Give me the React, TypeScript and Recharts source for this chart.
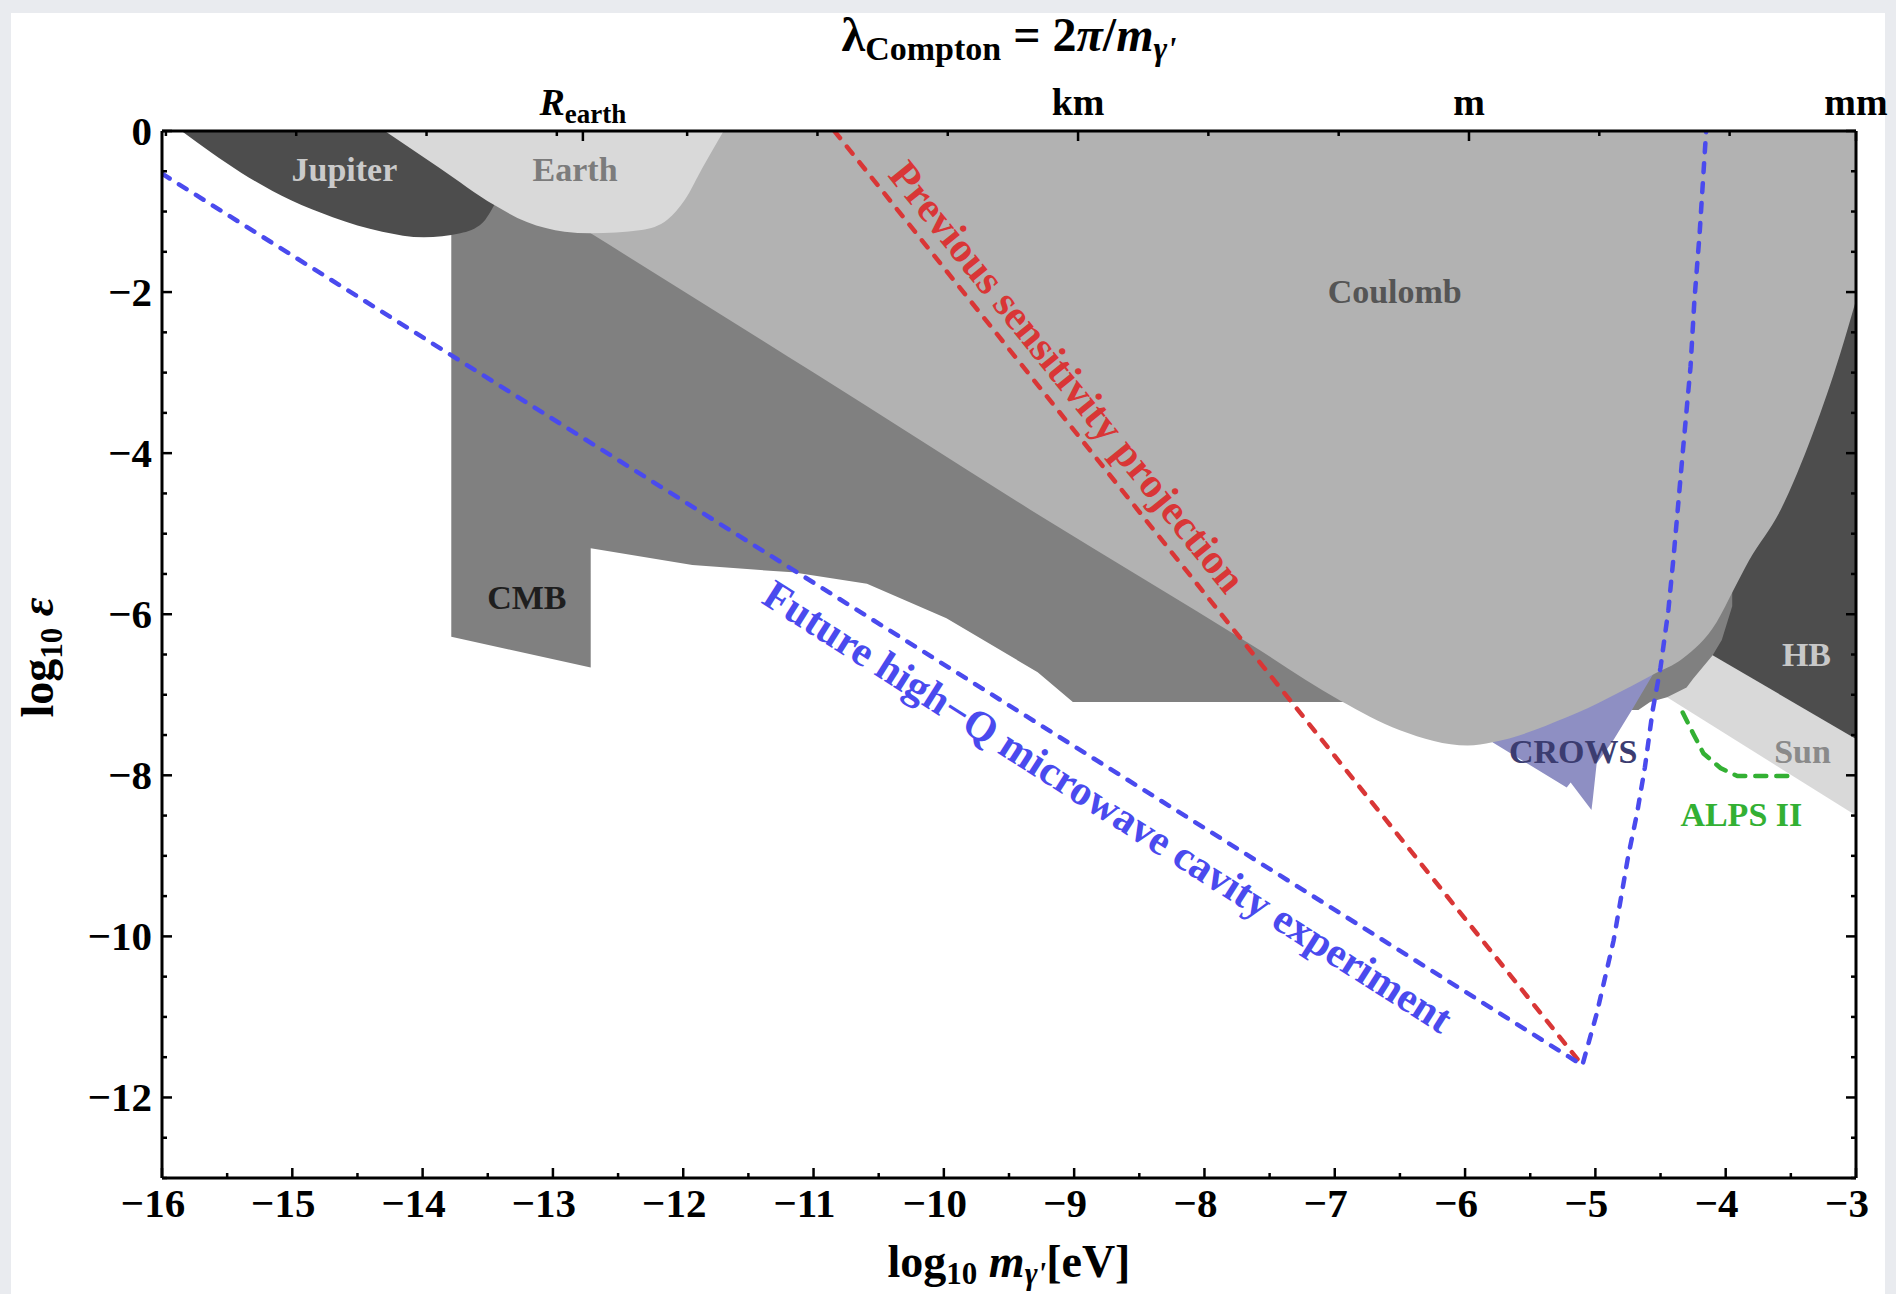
import { Area, ComposedChart, Line, Scatter, XAxis, YAxis } from 'recharts'

const FONT = '"Liberation Serif", "Times New Roman", Times, serif'

// excluded regions, one row per point: [log10 m, lower edge, upper edge]
const sunRegion = [
  [-4.45, -7.03, -6.0],
  [-3.0, -8.5, -6.0],
]

const hbRegion = [
  [-4.12, -6.49, 0],
  [-3.0, -7.55, 0],
]

const stripRegion = [
  [-4.72, -7.19, 0],
  [-4.67, -7.19, 0],
  [-4.58, -7.09, 0],
  [-4.45, -7.03, 0],
  [-4.3, -6.91, 0],
  [-4.25, -6.8, 0],
  [-4.1, -6.51, 0],
  [-4.03, -6.32, 0],
  [-3.95, -5.9, 0],
]

const crowsRegion = [
  [-5.79, -7.59, -7.59],
  [-5.22, -8.15, -7.0],
  [-5.19, -8.09, -7.0],
  [-5.03, -8.43, -7.0],
  [-5.02, -8.3, -6.9],
  [-4.99, -7.85, -6.9],
  [-4.86, -7.56, -6.8],
  [-4.72, -7.19, -6.7],
  [-4.56, -6.75, -6.0],
]

const cmbRegion = [
  [-13.78, -6.28, 0],
  [-12.71, -6.66, 0],
  [-12.71, -5.18, 0],
  [-11.93, -5.39, 0],
  [-11.16, -5.48, 0],
  [-10.59, -5.62, 0],
  [-9.98, -6.05, 0],
  [-9.28, -6.72, 0],
  [-9.01, -7.09, 0],
  [-6.92, -7.09, 0],
]

const coulombRegion = [
  [-12.71, -1.27, 0],
  [-11.0, -3.0, 0],
  [-9.24, -4.8, 0],
  [-7.66, -6.36, 0],
  [-6.96, -7.07, 0],
  [-6.5, -7.44, 0],
  [-5.98, -7.63, 0],
  [-5.79, -7.59, 0],
  [-5.22, -7.28, 0],
  [-4.56, -6.75, 0],
  [-4.33, -6.55, 0],
  [-4.07, -6.1, 0],
  [-3.94, -5.7, 0],
  [-3.82, -5.33, 0],
  [-3.58, -4.71, 0],
  [-3.33, -3.75, 0],
  [-3.12, -2.76, 0],
  [-3.0, -2.1, 0],
]

const jupiterRegion = [
  [-15.85, 0, 0],
  [-15.62, -0.27, 0],
  [-15.39, -0.52, 0],
  [-15.01, -0.86, 0],
  [-14.69, -1.07, 0],
  [-14.31, -1.25, 0],
  [-13.99, -1.32, 0],
  [-13.71, -1.27, 0],
  [-13.54, -1.14, 0],
  [-13.45, -0.92, 0],
]

const earthRegion = [
  [-14.29, 0, 0],
  [-13.87, -0.46, 0],
  [-13.45, -0.92, 0],
  [-13.2, -1.13, 0],
  [-12.91, -1.25, 0],
  [-12.71, -1.27, 0],
  [-12.32, -1.23, 0],
  [-12.12, -1.1, 0],
  [-11.99, -0.86, 0],
  [-11.85, -0.45, 0],
  [-11.69, 0, 0],
]

// sensitivity curves: [log10 m, log10 eps]
const previousProjection = [
  [-10.84, 0],
  [-5.1, -11.6],
]

const cavityProjection = [
  [-16, -0.53],
  [-5.1, -11.6],
  [-4.99, -10.96],
  [-4.86, -10.05],
  [-4.75, -9.02],
  [-4.68, -8.47],
  [-4.62, -7.9],
  [-4.56, -7.19],
  [-4.5, -6.66],
  [-4.44, -5.95],
  [-4.4, -5.29],
  [-4.33, -4.0],
  [-4.27, -2.93],
  [-4.24, -2.1],
  [-4.2, -1.27],
  [-4.15, 0],
]

const alpsTwo = [
  [-4.33, -7.22],
  [-4.25, -7.48],
  [-4.17, -7.73],
  [-4.04, -7.91],
  [-3.91, -8.01],
  [-3.49, -8.01],
]

const regionNames = [
  { text: 'Jupiter', x: -14.6, y: -0.48, color: '#cacaca', size: 34, angle: 0 },
  { text: 'Earth', x: -12.83, y: -0.48, color: '#7c7c7c', size: 34, angle: 0 },
  { text: 'Coulomb', x: -6.54, y: -1.99, color: '#555555', size: 34, angle: 0 },
  { text: 'CMB', x: -13.2, y: -5.79, color: '#1e1e1e', size: 34, angle: 0 },
  { text: 'HB', x: -3.38, y: -6.5, color: '#c8c8c8', size: 34, angle: 0 },
  { text: 'Sun', x: -3.41, y: -7.7, color: '#8a8a8a', size: 34, angle: 0 },
  { text: 'CROWS', x: -5.17, y: -7.7, color: '#3b3c70', size: 34, angle: 0 },
  { text: 'ALPS II', x: -3.88, y: -8.48, color: '#33b033', size: 34, angle: 0 },
]

const curveNames = [
  { text: 'Previous sensitivity projection', x: -9.05, y: -3.05, color: '#d93636', size: 42, angle: 51.1 },
  { text: 'Future high\u2212Q microwave cavity experiment', x: -8.74, y: -8.385, color: '#4a4aee', size: 42, angle: 32.4 },
]

const xTicks = [
  -16, -15.5, -15, -14.5, -14, -13.5, -13, -12.5, -12, -11.5, -11, -10.5, -10, -9.5, -9, -8.5, -8, -7.5, -7,
  -6.5, -6, -5.5, -5, -4.5, -4, -3.5, -3,
]

const yTicks = [
  0, -0.5, -1, -1.5, -2, -2.5, -3, -3.5, -4, -4.5, -5, -5.5, -6, -6.5, -7, -7.5, -8, -8.5, -9, -9.5, -10,
  -10.5, -11, -11.5, -12, -12.5, -13,
]

// Compton wavelength decades on the top axis
const lambdaTicks = [
  -15.97, -14.97, -13.97, -12.97, -12.77, -11.97, -10.97, -9.97, -8.97, -7.97, -6.97, -5.97, -4.97, -3.97, -3,
]
const lambdaLabelAt = [-12.77, -8.97, -5.97, -3]
const lambdaLabels = ['R', 'km', 'm', 'mm']

const band = (pts: number[][]) => pts.map(([x, lo, hi]) => ({ x, range: [lo, hi] }))
const path = (pts: number[][]) => pts.map(([x, y]) => ({ x, y }))
const fmt = (v: number) => (v < 0 ? '\u2212' + Math.abs(v) : String(v))

const AXIS = { stroke: '#000', strokeWidth: 3 }
const TICK = { stroke: '#000', strokeWidth: 2.5 }

function BottomTick(props: any) {
  const { x, y, payload } = props
  const v = payload.value
  const major = Number.isInteger(v)
  return (
    <g>
      <line x1={x} x2={x} y1={y} y2={y - (major ? 10 : 5)} {...TICK} />
      {major && (
        <text x={x - 9} y={y + 39} textAnchor="middle" fontFamily={FONT} fontWeight="bold" fontSize={41} fill="#000">
          {fmt(v)}
        </text>
      )}
    </g>
  )
}

function LeftTick(props: any) {
  const { x, y, payload } = props
  const v = payload.value
  const major = Math.abs(v % 2) === 0
  return (
    <g>
      <line x1={x} x2={x + (major ? 10 : 5)} y1={y} y2={y} {...TICK} />
      {major && (
        <text x={x - 10} y={y + 14} textAnchor="end" fontFamily={FONT} fontWeight="bold" fontSize={41} fill="#000">
          {fmt(v)}
        </text>
      )}
    </g>
  )
}

function RightTick(props: any) {
  const { x, y, payload } = props
  const major = Math.abs(payload.value % 2) === 0
  return <line x1={x} x2={x - (major ? 10 : 5)} y1={y} y2={y} {...TICK} />
}

function TopTick(props: any) {
  const { x, y, payload } = props
  const i = lambdaLabelAt.indexOf(payload.value)
  return (
    <g>
      <line x1={x} x2={x} y1={y} y2={y + (i >= 0 ? 10 : 5)} {...TICK} />
      {i === 0 && (
        <text x={x} y={y - 16} textAnchor="middle" fontFamily={FONT} fontWeight="bold" fontSize={38} fill="#000">
          <tspan fontStyle="italic">{lambdaLabels[i]}</tspan>
          <tspan fontSize={27} dy={8}>
            earth
          </tspan>
        </text>
      )}
      {i > 0 && (
        <text x={x} y={y - 16} textAnchor="middle" fontFamily={FONT} fontWeight="bold" fontSize={38} fill="#000">
          {lambdaLabels[i]}
        </text>
      )}
    </g>
  )
}

function TopTitle(props: any) {
  const vb = props.viewBox || { x: 162, y: 71, width: 1694, height: 60 }
  return (
    <text x={vb.x + vb.width / 2} y={vb.y - 20} textAnchor="middle" fontFamily={FONT} fontWeight="bold" fontSize={48} fill="#000">
      λ
      <tspan fontSize={34} dy={9}>
        Compton
      </tspan>
      <tspan dy={-9}> = 2</tspan>
      <tspan fontStyle="italic">π</tspan>/<tspan fontStyle="italic">m</tspan>
      <tspan fontSize={33} dy={9} fontStyle="italic">
        γ'
      </tspan>
    </text>
  )
}

function BottomTitle(props: any) {
  const vb = props.viewBox || { x: 162, y: 1178, width: 1694, height: 60 }
  return (
    <text x={vb.x + vb.width / 2} y={vb.y + 99} textAnchor="middle" fontFamily={FONT} fontWeight="bold" fontSize={46} fill="#000">
      log
      <tspan fontSize={31} dy={7}>
        10
      </tspan>
      <tspan dy={-7}> </tspan>
      <tspan fontStyle="italic">m</tspan>
      <tspan fontSize={31} dy={7} fontStyle="italic">
        γ'
      </tspan>
      <tspan dy={-7}>[eV]</tspan>
    </text>
  )
}

function LeftTitle(props: any) {
  const vb = props.viewBox || { x: 82, y: 131, width: 80, height: 1047 }
  const cx = vb.x - 29
  const cy = vb.y + vb.height / 2 + 3
  return (
    <text
      x={cx}
      y={cy}
      transform={`rotate(-90 ${cx} ${cy})`}
      textAnchor="middle"
      fontFamily={FONT}
      fontWeight="bold"
      fontSize={46}
      fill="#000"
    >
      log
      <tspan fontSize={31} dy={9}>
        10
      </tspan>
      <tspan dy={-9}> </tspan>
      <tspan fontStyle="italic">ε</tspan>
    </text>
  )
}

function NoteText(props: any) {
  const { cx, cy, payload } = props
  if (cx == null || cy == null) return <g />
  return (
    <text
      x={cx}
      y={cy}
      dy="0.34em"
      textAnchor="middle"
      fill={payload.color}
      fontSize={payload.size}
      fontWeight="bold"
      fontFamily={FONT}
      transform={payload.angle ? `rotate(${payload.angle} ${cx} ${cy})` : undefined}
    >
      {payload.text}
    </text>
  )
}

const areaProps = {
  dataKey: 'range',
  stroke: 'none',
  fillOpacity: 1,
  dot: false,
  activeDot: false,
  isAnimationActive: false,
  legendType: 'none' as const,
}

const lineProps = {
  dataKey: 'y',
  type: 'linear' as const,
  strokeWidth: 4.5,
  strokeLinecap: 'round' as const,
  dot: false,
  activeDot: false,
  isAnimationActive: false,
  legendType: 'none' as const,
}

export default function App() {
  return (
    <div
      style={{
        position: 'absolute',
        left: 0,
        top: 0,
        width: 1896,
        height: 1294,
        background: '#e9ebef',
        overflow: 'hidden',
      }}
    >
      <div style={{ position: 'absolute', left: 11, top: 13, width: 1874, height: 1281, background: '#fff' }} />
      <div style={{ position: 'absolute', left: 0, top: 0 }}>
        <ComposedChart width={1896} height={1294} margin={{ top: 71, right: 30, bottom: 56, left: 82 }}>
          <XAxis
            dataKey="x"
            type="number"
            domain={[-16, -3]}
            allowDataOverflow
            ticks={xTicks}
            interval={0}
            tickSize={0}
            tickMargin={0}
            tickLine={false}
            axisLine={AXIS}
            tick={(p: any) => <BottomTick {...p} />}
            height={60}
            label={(p: any) => <BottomTitle {...p} />}
          />
          <XAxis
            xAxisId="top"
            orientation="top"
            dataKey="x"
            type="number"
            domain={[-16, -3]}
            allowDataOverflow
            ticks={lambdaTicks}
            interval={0}
            tickSize={0}
            tickMargin={0}
            tickLine={false}
            axisLine={AXIS}
            tick={(p: any) => <TopTick {...p} />}
            height={60}
            label={(p: any) => <TopTitle {...p} />}
          />
          <YAxis
            type="number"
            domain={[-13, 0]}
            allowDataOverflow
            ticks={yTicks}
            interval={0}
            tickSize={0}
            tickMargin={0}
            tickLine={false}
            axisLine={AXIS}
            tick={(p: any) => <LeftTick {...p} />}
            width={80}
            label={(p: any) => <LeftTitle {...p} />}
          />
          <YAxis
            yAxisId="right"
            orientation="right"
            type="number"
            domain={[-13, 0]}
            allowDataOverflow
            ticks={yTicks}
            interval={0}
            tickSize={0}
            tickMargin={0}
            tickLine={false}
            axisLine={AXIS}
            tick={(p: any) => <RightTick {...p} />}
            width={10}
          />

          <Area {...areaProps} data={band(sunRegion)} type="linear" fill="#d9d9d9" />
          <Area {...areaProps} data={band(hbRegion)} type="linear" fill="#4d4d4d" />
          <Area {...areaProps} data={band(stripRegion)} type="linear" fill="#808080" />
          <Area {...areaProps} data={band(crowsRegion)} type="linear" fill="#8e8fc3" />
          <Area {...areaProps} data={band(cmbRegion)} type="linear" fill="#808080" />
          <Area {...areaProps} data={band(coulombRegion)} type="monotoneX" fill="#b2b2b2" />
          <Area {...areaProps} data={band(jupiterRegion)} type="monotoneX" fill="#4d4d4d" />
          <Area {...areaProps} data={band(earthRegion)} type="monotoneX" fill="#d9d9d9" />

          <Line {...lineProps} data={path(previousProjection)} stroke="#d93636" strokeDasharray="9 11" />
          <Line {...lineProps} data={path(cavityProjection)} stroke="#4a4aee" strokeDasharray="9 11" />
          <Line {...lineProps} data={path(alpsTwo)} stroke="#33b033" strokeDasharray="11 10" />

          <Scatter
            data={regionNames}
            dataKey="y"
            shape={(p: any) => <NoteText {...p} />}
            isAnimationActive={false}
            legendType="none"
          />
          <Scatter
            data={curveNames}
            dataKey="y"
            shape={(p: any) => <NoteText {...p} />}
            isAnimationActive={false}
            legendType="none"
          />
        </ComposedChart>
      </div>
    </div>
  )
}
